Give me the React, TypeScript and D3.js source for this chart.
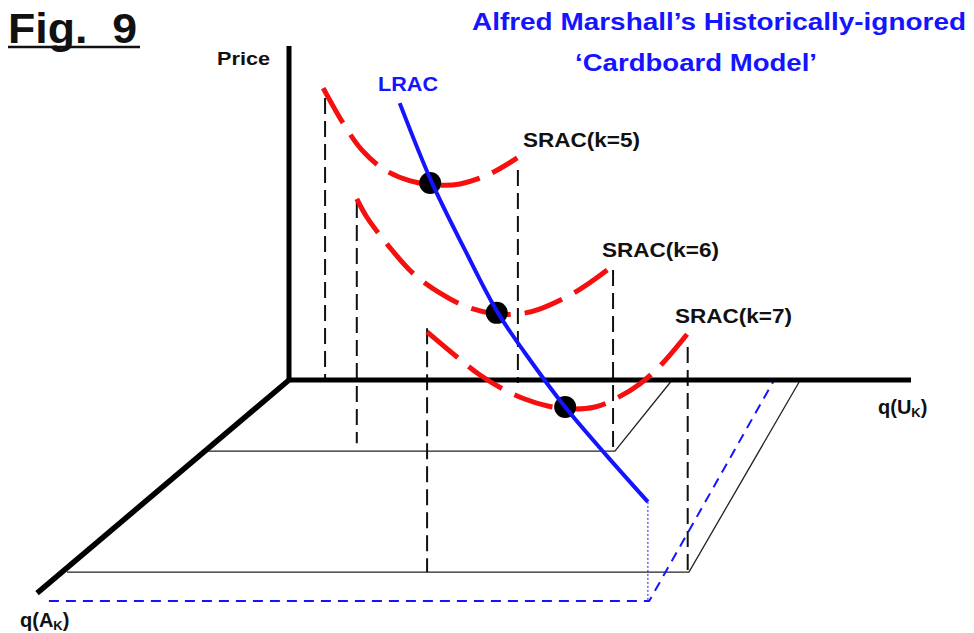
import React from 'react';
import * as d3 from 'd3';

// diagram units: q(U) along x, price along y, floor depth goes negative on y
const lrac = [[17.8, 82.9], [23.0, 59.0], [28.3, 38.9], [33.6, 20.1], [39.1, 5.1], [44.4, -8.1], [51.0, -22.5], [57.7, -36.5]];

const srac5 = [[5.5, 87.4], [8.7, 76.9], [11.7, 68.9], [15.4, 62.9], [19.5, 59.6], [23.5, 58.4], [27.5, 58.7], [32.3, 61.7], [36.7, 66.5]];
const srac6 = [[10.9, 54.2], [12.5, 48.8], [15.9, 40.4], [19.9, 32.0], [24.3, 26.0], [28.6, 21.9], [33.1, 19.8], [37.1, 19.8], [40.4, 21.3], [46.3, 26.6], [51.8, 33.8]];
const srac7 = [[22.2, 14.4], [27.0, 6.9], [30.7, 1.5], [34.4, -2.7], [37.9, -5.7], [41.6, -7.8], [45.2, -8.7], [49.2, -8.1], [52.7, -5.4], [56.4, -1.2], [60.1, 5.1], [64.3, 14.4]];

const tangency = [[22.7, 59.0], [33.4, 20.1], [44.4, -8.1]];

// vertical guides: x, top, bottom
const guides = [[5.8, 84.4, -0.6], [36.8, 62.9, -0.9], [10.9, 53.3, -18.9], [52.1, 32.9, -21.3], [22.2, 15.5, -57.5], [64.1, 9.9, -57.8]];

// floor rows (thin black) and the LRAC floor (blue dashed)
const floorRow1 = [[-13.0, -21.3], [52.4, -21.3], [61.6, 0]];
const floorRow2 = [[-35.7, -57.5], [64.3, -57.5], [82.2, 0]];
const lracFloor = [[-38.6, -66.2], [57.9, -66.2], [78.0, 0]];
const lracDrop = [[57.7, -36.5], [57.7, -66.2]];

const priceAxis = [[0, 100], [0, 0]];
const quAxis = [[0, 0], [100, 0]];
const qaAxis = [[0, 0], [-40.5, -63.8]];

const W = 974, H = 633;
const RED = '#f50f0f';
const BLUE = '#1414ff';
const FONT = 'Liberation Sans, Arial, sans-serif';

export default function App() {
  const x = d3.scaleLinear().domain([0, 100]).range([289, 911]);
  const y = d3.scaleLinear().domain([0, 100]).range([380, 46]);

  const straight = d3.line<number[]>().x(d => x(d[0])).y(d => y(d[1]));
  const smooth = d3.line<number[]>().x(d => x(d[0])).y(d => y(d[1])).curve(d3.curveCatmullRom.alpha(0.5));

  const srac = [srac5, srac6, srac7];

  return (
    <svg width={W} height={H} style={{ position: 'absolute', left: 0, top: 0, background: '#fff' }} fontFamily={FONT}>
      {/* floor */}
      <path d={straight(floorRow1) || ''} fill="none" stroke="#222" strokeWidth={1.3} />
      <path d={straight(floorRow2) || ''} fill="none" stroke="#222" strokeWidth={1.3} />
      <path d={straight(lracFloor) || ''} fill="none" stroke={BLUE} strokeWidth={2} strokeDasharray="10 7" />
      <path d={straight(lracDrop) || ''} fill="none" stroke={BLUE} strokeWidth={1} strokeDasharray="2 2" />

      {guides.map((g, i) => (
        <line key={i} x1={x(g[0])} x2={x(g[0])} y1={y(g[1])} y2={y(g[2])}
          stroke="#111" strokeWidth={2} strokeDasharray="16 7" />
      ))}

      {/* axes */}
      <path d={straight(priceAxis) || ''} fill="none" stroke="#000" strokeWidth={5} />
      <path d={straight(quAxis) || ''} fill="none" stroke="#000" strokeWidth={5} />
      <path d={straight(qaAxis) || ''} fill="none" stroke="#000" strokeWidth={5.5} />

      {srac.map((s, i) => (
        <path key={i} d={smooth(s) || ''} fill="none" stroke={RED} strokeWidth={5} strokeDasharray="40 14" />
      ))}

      {tangency.map((p, i) => (
        <circle key={i} cx={x(p[0])} cy={y(p[1])} r={11} fill="#000" />
      ))}

      <path d={smooth(lrac) || ''} fill="none" stroke={BLUE} strokeWidth={4} />

      {/* text */}
      <text x={8} y={43} fontSize={42} fontWeight="bold" fill="#111" textLength={129} lengthAdjust="spacingAndGlyphs" xmlSpace="preserve">Fig.  9</text>
      <line x1={8} x2={140} y1={47} y2={47} stroke="#111" strokeWidth={2.5} />

      <text x={217} y={65} fontSize={19} fontWeight="bold" fill="#111" textLength={53} lengthAdjust="spacingAndGlyphs">Price</text>

      <text x={472} y={30} fontSize={24} fontWeight="bold" fill={BLUE} textLength={494} lengthAdjust="spacingAndGlyphs">Alfred Marshall’s Historically-ignored</text>
      <text x={575} y={71} fontSize={24} fontWeight="bold" fill={BLUE} textLength={242} lengthAdjust="spacingAndGlyphs">‘Cardboard Model’</text>

      <text x={378} y={91} fontSize={21} fontWeight="bold" fill={BLUE} textLength={60} lengthAdjust="spacingAndGlyphs">LRAC</text>

      <text x={523} y={147} fontSize={20} fontWeight="bold" fill="#111" textLength={117} lengthAdjust="spacingAndGlyphs">SRAC(k=5)</text>
      <text x={602} y={257} fontSize={20} fontWeight="bold" fill="#111" textLength={117} lengthAdjust="spacingAndGlyphs">SRAC(k=6)</text>
      <text x={675} y={323} fontSize={20} fontWeight="bold" fill="#111" textLength={117} lengthAdjust="spacingAndGlyphs">SRAC(k=7)</text>

      <text x={878} y={414} fontSize={20} fontWeight="bold" fill="#111">
        q(U<tspan fontSize={13} dy={3}>K</tspan><tspan dy={-3}>)</tspan>
      </text>
      <text x={20} y={627} fontSize={20} fontWeight="bold" fill="#111">
        q(A<tspan fontSize={13} dy={3}>K</tspan><tspan dy={-3}>)</tspan>
      </text>
    </svg>
  );
}
